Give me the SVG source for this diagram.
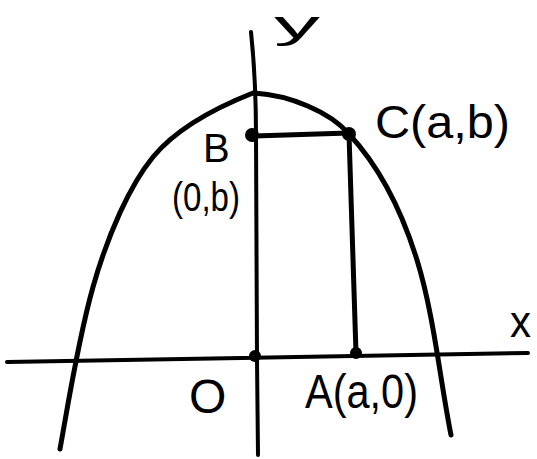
<svg xmlns="http://www.w3.org/2000/svg" width="537" height="459" viewBox="0 0 537 459">
<style>
.ln{fill:none;stroke:#000;stroke-linecap:round;stroke-linejoin:round}
.ax{stroke-width:4}
.cv{stroke-width:5}
.dot{fill:#000}
.lb{font-family:"Liberation Sans","DejaVu Sans",sans-serif;fill:#000}
</style>
<rect width="537" height="459" fill="#fff"/>
<g id="axes">
<path class="ln ax" d="M7,362 L528,353"/>
<path class="ln ax" d="M251,32 Q256,80 256,135 L257,360 L258,455"/>
<text class="lb" x="510" y="337" font-size="44" textLength="21" lengthAdjust="spacingAndGlyphs">x</text>
<text class="lb" x="274" y="38" font-size="38" textLength="46" lengthAdjust="spacingAndGlyphs">y</text>
</g>
<g id="parabola">
<path class="ln cv" d="M60,449 C68,405 78,340 93,287 S130,185 153,157 S215,108 253,93 C290,95 330,112 349,134 C375,162 400,205 417,260 S440,380 451,435"/>
</g>
<g id="connectors">
<path class="ln cv" d="M252,136 L349,133"/>
<path class="ln cv" d="M349,134 Q352,240 356,353"/>
</g>
<g id="node-O">
<circle class="dot" cx="255" cy="356" r="6"/>
<text class="lb" x="189" y="413" font-size="48">O</text>
</g>
<g id="node-A">
<circle class="dot" cx="356" cy="353" r="6"/>
<text class="lb" x="305" y="408" font-size="48" textLength="113" lengthAdjust="spacingAndGlyphs">A(a,0)</text>
</g>
<g id="node-B">
<circle class="dot" cx="252" cy="135" r="7"/>
<text class="lb" x="203" y="162" font-size="40">B</text>
<text class="lb" x="172" y="211" font-size="40" textLength="68" lengthAdjust="spacingAndGlyphs">(0,b)</text>
</g>
<g id="node-C">
<circle class="dot" cx="349" cy="134" r="7"/>
<text class="lb" x="375" y="138" font-size="46" textLength="135" lengthAdjust="spacingAndGlyphs">C(a,b)</text>
</g>
</svg>
